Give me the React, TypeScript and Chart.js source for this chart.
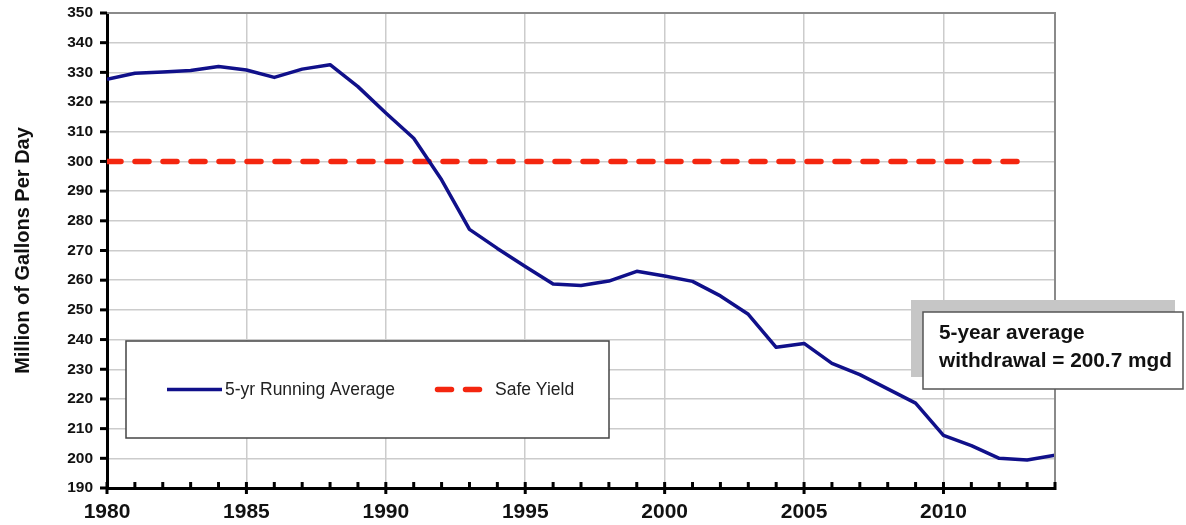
import { useEffect, useRef } from "react";
import { Chart, registerables } from "chart.js";

Chart.register(...registerables);

// ---- Data ----
const years = [
  1980, 1981, 1982, 1983, 1984, 1985, 1986, 1987, 1988, 1989,
  1990, 1991, 1992, 1993, 1994, 1995, 1996, 1997, 1998, 1999,
  2000, 2001, 2002, 2003, 2004, 2005, 2006, 2007, 2008, 2009,
  2010, 2011, 2012, 2013, 2014,
];
const runningAverage = [
  327.7, 329.7, 330.1, 330.6, 332.0, 330.8, 328.3, 331.1, 332.6, 325.2,
  316.3, 307.8, 293.8, 277.1, 270.7, 264.6, 258.7, 258.2, 259.7, 263.0,
  261.4, 259.6, 254.7, 248.5, 237.4, 238.7, 232.0, 228.2, 223.4, 218.6,
  207.7, 204.3, 200.0, 199.4, 201.0,
];
const safeYieldYears = [1980, 2013];
const safeYieldValues = [300, 300];

const seriesLabels = ["5-yr Running Average", "Safe Yield"];
const yAxisTitle = "Million of Gallons Per Day";
const yMin = 190;
const yMax = 350;
const yStep = 10;
const xMin = 1980;
const xMax = 2014;
const xLabelStep = 5;
const annotationLines = ["5-year average", "withdrawal = 200.7 mgd"];

const BLUE = "#10108a";
const RED = "#f4260f";
const FONT = '"Liberation Sans", Arial, sans-serif';

const decorPlugin = {
  id: "decor",
  afterDraw(chart: any) {
    const { ctx, chartArea: ca, scales } = chart;
    const x = scales.x;
    const y = scales.y;
    ctx.save();

    // top & right frame
    ctx.strokeStyle = "#8a8a8a";
    ctx.lineWidth = 2;
    ctx.beginPath();
    ctx.moveTo(ca.left, ca.top);
    ctx.lineTo(ca.right, ca.top);
    ctx.lineTo(ca.right, ca.bottom);
    ctx.stroke();

    // tick marks on x axis
    ctx.strokeStyle = "#000";
    ctx.lineWidth = 3;
    for (let v = xMin; v <= xMax; v++) {
      const px = x.getPixelForValue(v);
      const major = v % xLabelStep === 0;
      ctx.beginPath();
      ctx.moveTo(px, ca.bottom - 6);
      ctx.lineTo(px, ca.bottom + (major ? 6 : 2));
      ctx.stroke();
    }
    // tick marks on y axis
    for (let v = yMin; v <= yMax; v += yStep) {
      const py = y.getPixelForValue(v);
      ctx.beginPath();
      ctx.moveTo(ca.left - 7, py);
      ctx.lineTo(ca.left, py);
      ctx.stroke();
    }

    // legend box
    const lx = ca.left + 19;
    const ly = ca.top + 328;
    const lw = 483;
    const lh = 97;
    ctx.fillStyle = "#fff";
    ctx.fillRect(lx, ly, lw, lh);
    ctx.strokeStyle = "#444";
    ctx.lineWidth = 1.5;
    ctx.strokeRect(lx, ly, lw, lh);
    const midY = ly + lh / 2;
    ctx.font = `17.5px ${FONT}`;
    ctx.fillStyle = "#222";
    ctx.textBaseline = "middle";
    ctx.textAlign = "left";
    // item 1
    ctx.strokeStyle = BLUE;
    ctx.lineWidth = 3.5;
    ctx.beginPath();
    ctx.moveTo(lx + 41, midY);
    ctx.lineTo(lx + 96, midY);
    ctx.stroke();
    ctx.fillText(chart.data.datasets[0].label, lx + 99, midY + 1);
    // item 2
    ctx.strokeStyle = RED;
    ctx.lineWidth = 5.5;
    ctx.lineCap = "round";
    ctx.setLineDash([14, 14]);
    ctx.beginPath();
    ctx.moveTo(lx + 311.5, midY);
    ctx.lineTo(lx + 364.5, midY);
    ctx.stroke();
    ctx.setLineDash([]);
    ctx.lineCap = "butt";
    ctx.fillText(chart.data.datasets[1].label, lx + 369, midY + 1);

    // annotation box
    ctx.fillStyle = "#c6c6c6";
    ctx.fillRect(911, 300, 264, 77);
    ctx.fillStyle = "#fff";
    ctx.fillRect(923, 312, 260, 77);
    ctx.strokeStyle = "#555";
    ctx.lineWidth = 1.5;
    ctx.strokeRect(923, 312, 260, 77);
    ctx.fillStyle = "#111";
    ctx.font = `bold 20.8px ${FONT}`;
    ctx.textBaseline = "alphabetic";
    ctx.fillText(annotationLines[0], 939, 339);
    ctx.fillText(annotationLines[1], 939, 367);

    ctx.restore();
  },
};

export default function App() {
  const canvasRef = useRef<HTMLCanvasElement | null>(null);

  useEffect(() => {
    if (!canvasRef.current) return;
    const chart = new Chart(canvasRef.current, {
      type: "line",
      data: {
        datasets: [
          {
            label: seriesLabels[0],
            data: years.map((yr, i) => ({ x: yr, y: runningAverage[i] })),
            borderColor: BLUE,
            borderWidth: 3.5,
            pointRadius: 0,
            tension: 0,
            fill: false,
            borderJoinStyle: "round",
          },
          {
            label: seriesLabels[1],
            data: safeYieldYears.map((yr, i) => ({ x: yr, y: safeYieldValues[i] })),
            borderColor: RED,
            borderWidth: 5.5,
            borderDash: [14, 14],
            borderCapStyle: "round",
            pointRadius: 0,
            tension: 0,
            fill: false,
          },
        ],
      },
      options: {
        animation: false,
        responsive: true,
        maintainAspectRatio: false,
        layout: { padding: { left: 0, right: 131, top: 13, bottom: 0 } },
        plugins: {
          legend: { display: false },
          tooltip: { enabled: false },
        },
        scales: {
          x: {
            type: "linear",
            min: xMin,
            max: xMax,
            afterBuildTicks: (s: any) => {
              s.ticks = s.ticks.filter((t: any) => t.value % xLabelStep === 0);
            },
            afterFit: (s: any) => {
              s.height = 37;
              s.paddingLeft = 0;
              s.paddingRight = 0;
            },
            ticks: {
              stepSize: xLabelStep,
              autoSkip: false,
              maxRotation: 0,
              padding: 12,
              color: "#111",
              font: { family: FONT, size: 21, weight: "bold" },
              callback: (v: any) => String(v),
            },
            grid: { color: "#cccccc", lineWidth: 1.5, drawTicks: false },
            border: { display: true, color: "#000", width: 3 },
          },
          y: {
            type: "linear",
            min: yMin,
            max: yMax,
            afterFit: (s: any) => {
              s.width = 107;
              s.paddingTop = 0;
              s.paddingBottom = 0;
            },
            ticks: {
              stepSize: yStep,
              padding: 14,
              color: "#111",
              font: { family: FONT, size: 15.5, weight: "bold" },
            },
            grid: { color: "#cccccc", lineWidth: 1.5, drawTicks: false },
            border: { display: true, color: "#000", width: 3 },
            title: {
              display: true,
              text: yAxisTitle,
              color: "#111",
              font: { family: FONT, size: 20, weight: "bold" },
              padding: { top: 11, bottom: 0 },
            },
          },
        },
      },
      plugins: [decorPlugin],
    });
    return () => chart.destroy();
  }, []);

  return (
    <div
      style={{
        position: "absolute",
        left: 0,
        top: 0,
        width: 1186,
        height: 525,
        background: "#fff",
      }}
    >
      <canvas ref={canvasRef} />
    </div>
  );
}
